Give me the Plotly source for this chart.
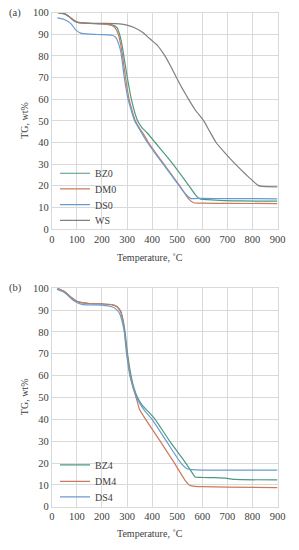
import plotly.graph_objects as go

# ---------------- (a) ----------------
BZ0_T = [25, 50, 75, 100, 125, 150, 200, 240, 260, 270, 280, 287, 301, 317, 342, 360, 380, 412, 444, 483, 547, 575, 591, 620, 687, 750, 900]
BZ0 = [100, 99.5, 97.5, 95.6, 95.2, 95, 94.8, 94.3, 93, 90, 85, 80, 70, 60, 50, 46.8, 44.5, 40, 35.5, 30, 20, 15.5, 13.9, 13.6, 13.2, 13.0, 12.9]

DM0_T = [25, 50, 75, 100, 125, 150, 200, 240, 255, 265, 275, 282, 294, 308, 333, 350, 365, 385, 447, 510, 545, 566, 600, 700, 900]
DM0 = [100, 99.5, 97.5, 95.6, 95.2, 95, 94.8, 94, 92.5, 90, 85, 80, 70, 60, 50, 46.5, 44.0, 40, 30, 20, 14, 12.2, 12, 11.9, 11.8]

DS0_T = [22, 50, 75, 95, 115, 150, 200, 240, 255, 265, 275, 280, 289, 304, 330, 350, 365, 381, 412, 444, 508, 535, 553, 600, 700, 900]
DS0 = [97.5, 96.8, 95, 92, 90.5, 90, 89.8, 89.5, 88.5, 86, 82, 78, 70, 60, 50, 46, 43, 40, 35, 30, 20, 16, 14.2, 14.2, 14.1, 14.0]

WS_T = [25, 60, 90, 110, 200, 270, 300, 330, 360, 390, 420, 451, 475, 497, 520, 545, 572, 606, 630, 655, 692, 732, 776, 823, 840, 900]
WS = [100, 99, 96, 95.3, 95, 94.8, 94.2, 93, 91, 88, 85, 80, 75, 70, 65, 60, 55, 50, 45, 40, 35, 30, 25, 20.2, 19.7, 19.5]

# ---------------- (b) ----------------
BZ4_T = [22, 50, 75, 100, 125, 150, 200, 240, 260, 275, 285, 292, 302, 316, 326, 342, 360, 385, 412, 470, 534, 560, 572, 600, 650, 700, 730, 900]
BZ4 = [100, 98.5, 96, 94, 93.3, 93, 92.8, 92.5, 91.5, 89.5, 85, 80, 70, 60, 55, 50, 46.5, 43.5, 40, 30, 20, 15.5, 13.6, 13.4, 13.3, 13.0, 12.5, 12.3]

DM4_T = [22, 50, 75, 100, 125, 150, 200, 240, 260, 275, 283, 290, 300, 313, 323, 336, 350, 374, 432, 489, 532, 548, 570, 600, 700, 900]
DM4 = [100, 98.5, 96, 94, 93.3, 93, 92.8, 92.5, 91.5, 89, 85, 80, 70, 60, 55, 50, 44.5, 40, 30, 20, 12, 10, 9.3, 9.2, 9.0, 8.8]

DS4_T = [20, 50, 80, 100, 125, 200, 240, 260, 272, 282, 289, 298, 311, 323, 338, 355, 370, 400, 457, 515, 541, 560, 600, 900]
DS4 = [99.5, 98, 95, 93.5, 92.5, 92.3, 91.5, 90, 88, 84, 80, 70, 60, 55, 50, 46.5, 44, 40, 30, 20, 17.3, 17, 16.8, 16.8]

X_TICKS = [0, 100, 200, 300, 400, 500, 600, 700, 800, 900]
Y_TICKS = [0, 10, 20, 30, 40, 50, 60, 70, 80, 90, 100]

C_BZ = "#4a9a7e"
C_DM = "#cc7a5c"
C_DS = "#6a9ad2"
C_WS = "#808080"

FONT = "Liberation Serif, Times New Roman, serif"
TXT = "#404040"

W, H = 299, 550
xdom = [50.7 / W, 285 / W]
ydom_a = [1 - 228.7 / H, 1 - 7.7 / H]
ydom_b = [1 - 512 / H, 1 - 289 / H]

fig = go.Figure()

# (name, x, y, color, xaxis, yaxis, legend id, legend centre y in px)
series = [
    ("BZ0", BZ0_T, BZ0, C_BZ, "x", "y", "legend", 171.7),
    ("DM0", DM0_T, DM0, C_DM, "x", "y", "legend2", 187.7),
    ("DS0", DS0_T, DS0, C_DS, "x", "y", "legend3", 203.7),
    ("WS", WS_T, WS, C_WS, "x", "y", "legend4", 219.7),
    ("BZ4", BZ4_T, BZ4, C_BZ, "x2", "y2", "legend5", 469.3),
    ("DM4", DM4_T, DM4, C_DM, "x2", "y2", "legend6", 486.0),
    ("DS4", DS4_T, DS4, C_DS, "x2", "y2", "legend7", 502.0),
]

legends = {}
for name, x, y, color, xa_id, ya_id, leg, ly in series:
    fig.add_trace(go.Scatter(x=x, y=y, name=name, mode="lines", showlegend=True,
                             line=dict(color=color, width=1.2, shape="spline", smoothing=0.5),
                             xaxis=xa_id, yaxis=ya_id, legend=leg))
    legends[leg] = dict(bgcolor="rgba(0,0,0,0)", font=dict(family=FONT, size=10, color=TXT),
                        xanchor="left", yanchor="middle", x=54 / W, y=1 - ly / H,
                        itemwidth=30, borderwidth=0)

ax_common = dict(showgrid=True, gridcolor="#d9d9d9", gridwidth=1, zeroline=False,
                 showline=True, linecolor="#d9d9d9", linewidth=1, mirror=True,
                 ticks="", tickfont=dict(family=FONT, size=10.5, color=TXT))

xa = dict(ax_common, range=[0, 900], tickvals=X_TICKS, domain=xdom)
ya = dict(ax_common, range=[0, 100], tickvals=Y_TICKS)

def ann(text, xp, yp, angle=0, size=10, xanchor="center"):
    return dict(text=text, x=xp / W, y=1 - yp / H, xref="paper", yref="paper",
                xanchor=xanchor, yanchor="middle", textangle=angle, showarrow=False,
                font=dict(family=FONT, size=size, color=TXT))

fig.update_layout(
    width=W, height=H,
    margin=dict(l=0, r=0, t=0, b=0),
    paper_bgcolor="white", plot_bgcolor="white",
    font=dict(family=FONT, color=TXT),
    showlegend=True,
    xaxis=dict(xa, anchor="y"),
    yaxis=dict(ya, domain=ydom_a, anchor="x"),
    xaxis2=dict(xa, anchor="y2"),
    yaxis2=dict(ya, domain=ydom_b, anchor="x2"),
    annotations=[
        ann("(a)", 4, 8, size=10.5, xanchor="left"),
        ann("(b)", 4, 289, size=10.5, xanchor="left"),
        ann("TG, wt%", 22, 118, angle=-90),
        ann("TG, wt%", 22, 400, angle=-90),
        ann("Temperature, ˚C", 153, 258),
        ann("Temperature, ˚C", 153, 539),
    ],
)
fig.update_layout(**legends)

fig.write_html("out.html", config={"displayModeBar": False},
               post_script="document.body.style.margin='0';document.body.style.overflow='hidden';")
